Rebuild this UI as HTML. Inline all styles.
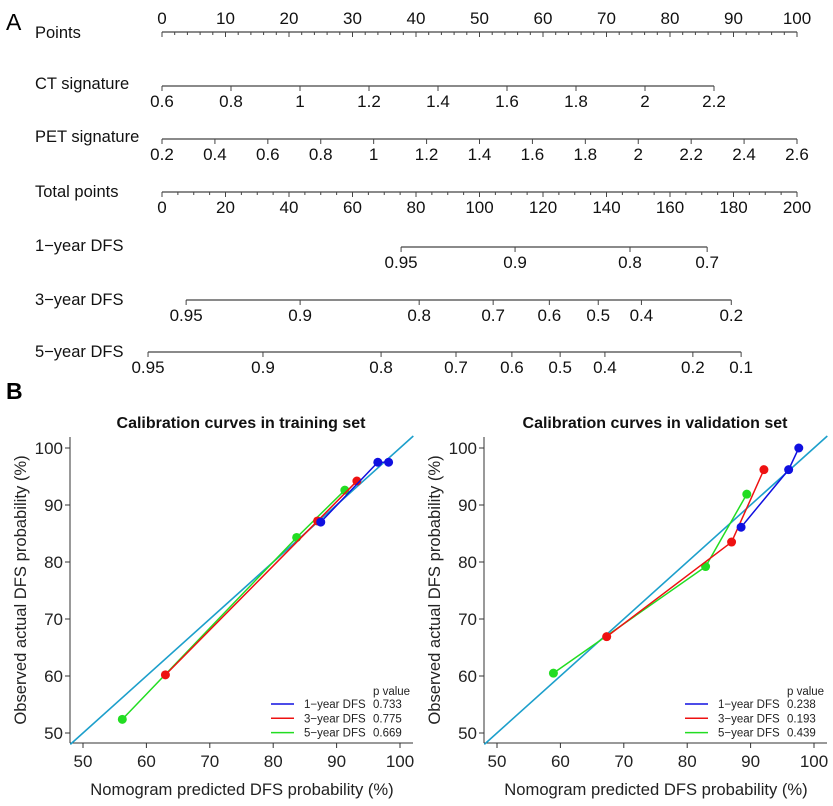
<!DOCTYPE html>
<html><head><meta charset="utf-8"><style>
body{margin:0;background:#fff}
svg{display:block;font-family:"Liberation Sans",sans-serif}
</style></head><body>
<svg id="s" width="833" height="806" viewBox="0 0 833 806">
<text x="6" y="30" font-size="23">A</text>
<text x="6" y="399" font-size="23" font-weight="bold">B</text>
<g id="nomo"></g>
<g id="cal1"></g>
<g id="cal2"></g>
</svg>
<script>
// Nomogram scale data
const rowNames=["Points","CT signature","PET signature","Total points","1\u2212year DFS","3\u2212year DFS","5\u2212year DFS"];
const ctTicks=[0.6,0.8,1,1.2,1.4,1.6,1.8,2,2.2];
const petTicks=[0.2,0.4,0.6,0.8,1,1.2,1.4,1.6,1.8,2,2.2,2.4,2.6];
const dfs1Labels=["0.95","0.9","0.8","0.7"];
const dfs1Points=[75.3,111.2,147.4,171.7]; // total points positions
const dfs3Labels=["0.95","0.9","0.8","0.7","0.6","0.5","0.4","0.2"];
const dfs3Points=[7.6,43.5,81,104.3,122,137.4,151,179.3];
const dfs5Labels=["0.95","0.9","0.8","0.7","0.6","0.5","0.4","0.2","0.1"];
const dfs5Points=[-4.4,31.8,69,92.6,110.2,125.4,139.5,167.2,182.4];

// Calibration data
const trainBlueX=[87.5,96.5,98.2], trainBlueY=[87,97.5,97.5];
const trainRedX=[63,87,93.2], trainRedY=[60.2,87.2,94.2];
const trainGreenX=[56.2,83.7,91.3], trainGreenY=[52.4,84.3,92.6];
const valBlueX=[88.5,96,97.6], valBlueY=[86.1,96.2,100];
const valRedX=[67.3,87,92.1], valRedY=[66.9,83.5,96.2];
const valGreenX=[58.9,82.9,89.4], valGreenY=[60.5,79.2,91.9];
const trainP=["0.733","0.775","0.669"];
const valP=["0.238","0.193","0.439"];
const calTicks=[50,60,70,80,90,100];

const NS="http://www.w3.org/2000/svg";
function mk(p,tag,a,txt){const e=document.createElementNS(NS,tag);for(const k in a)e.setAttribute(k,a[k]);if(txt!==undefined)e.textContent=txt;p.appendChild(e);return e;}

const nomo=document.getElementById('nomo');
const X0=162,X1=797;
const ptX=v=>X0+(X1-X0)*v/100;
const totX=v=>X0+(X1-X0)*v/200;
const labBase=[38,89,142,197,251,305,357];
rowNames.forEach((n,i)=>{
  const t=mk(nomo,'text',{x:35,y:labBase[i],'font-size':16.5,fill:'#111'},n);
  
  
});
function scaleRow(y,xs,labels,above,minor){
  const g=mk(nomo,'g',{});
  
  
  mk(g,'line',{x1:Math.min(...xs),x2:Math.max(...xs),y1:y,y2:y,stroke:'#444','stroke-width':1.2});
  xs.forEach((x,i)=>{
    mk(g,'line',{x1:x,x2:x,y1:y,y2:y+5,stroke:'#444','stroke-width':1});
    const t=mk(g,'text',{x:x,y:above?y-8:y+21,'font-size':17,'text-anchor':'middle',fill:'#111'},labels[i]);
    
    
  });
  (minor||[]).forEach(x=>mk(g,'line',{x1:x,x2:x,y1:y,y2:y+3,stroke:'#444','stroke-width':1}));
}
const pts=[0,10,20,30,40,50,60,70,80,90,100];
const ptMinor=[];for(let v=0;v<=100;v+=2)ptMinor.push(ptX(v));
scaleRow(32,pts.map(ptX),pts.map(String),true,ptMinor);
const ctX=v=>X0+(v-0.6)/0.2*69;
scaleRow(86,ctTicks.map(ctX),ctTicks.map(String),false);
const petX=v=>X0+(v-0.2)/2.4*(X1-X0);
scaleRow(139,petTicks.map(petX),petTicks.map(String),false);
const tot=[0,20,40,60,80,100,120,140,160,180,200];
const totMinor=[];for(let v=0;v<=200;v+=5)totMinor.push(totX(v));
scaleRow(192,tot.map(totX),tot.map(String),false,totMinor);
scaleRow(247,dfs1Points.map(totX),dfs1Labels,false);
scaleRow(300,dfs3Points.map(totX),dfs3Labels,false);
scaleRow(352,dfs5Points.map(totX),dfs5Labels,false);

function cal(id,ox,title,series,pv){
  const g=document.getElementById(id);
  const ax=70+ox, ay=743;
  const sx=v=>83+ox+(v-50)*6.34;
  const sy=v=>733-(v-50)*5.7;
  mk(g,'text',{x:241+ox,y:428,'font-size':16,'font-weight':'bold','text-anchor':'middle',fill:'#111'},title);
  mk(g,'line',{x1:ax,x2:ax,y1:437,y2:ay,stroke:'#333','stroke-width':1});
  mk(g,'line',{x1:ax,x2:413+ox,y1:ay,y2:ay,stroke:'#333','stroke-width':1});
  calTicks.forEach(v=>{
    mk(g,'line',{x1:sx(v),x2:sx(v),y1:ay,y2:ay+5,stroke:'#333'});
    const t=mk(g,'text',{x:sx(v),y:ay+24,'font-size':17,'text-anchor':'middle',fill:'#222'},v);
    
    
    mk(g,'line',{x1:ax-5,x2:ax,y1:sy(v),y2:sy(v),stroke:'#333'});
    const u=mk(g,'text',{x:ax-7,y:sy(v)+6,'font-size':17,'text-anchor':'end',fill:'#222'},v);
    
    
  });
  const xt=mk(g,'text',{x:242+ox,y:795,'font-size':16.6,'text-anchor':'middle',fill:'#222'},'Nomogram predicted DFS probability (%)');
  
  
  const yt=mk(g,'text',{x:0,y:0,'font-size':16.6,'text-anchor':'middle',fill:'#222',transform:`translate(${26+ox},590) rotate(-90)`},'Observed actual DFS probability (%)');
  
  
  const d=mk(g,'line',{x1:sx(48),y1:sy(48),x2:sx(102.1),y2:sy(102.1),stroke:'#1c9fcb','stroke-width':1.6});
  
  
  const cols=['#1010e0','#ee1111','#22dd22'];
  const names=['1\u2212year DFS','3\u2212year DFS','5\u2212year DFS'];
  [2,1,0].forEach(k=>{
    const [xs,ys]=series[k];
    const p=mk(g,'polyline',{points:xs.map((x,i)=>sx(x)+','+sy(ys[i])).join(' '),fill:'none',stroke:cols[k],'stroke-width':1.5});
    
    
    xs.forEach((x,i)=>{
      const c=mk(g,'circle',{cx:sx(x),cy:sy(ys[i]),r:4.5,fill:cols[k]});
      
      
    });
  });
  mk(g,'text',{x:373+ox,y:695,'font-size':11.5,fill:'#222'},'p value');
  names.forEach((n,k)=>{
    const y=704+k*14.3;
    mk(g,'line',{x1:271+ox,x2:294+ox,y1:y,y2:y,stroke:cols[k],'stroke-width':1.5});
    const t=mk(g,'text',{x:304+ox,y:y+4,'font-size':11.5,fill:'#222'},n);
    
    
    mk(g,'text',{x:373+ox,y:y+4,'font-size':11.5,fill:'#222'},pv[k]);
  });
}
cal('cal1',0,'Calibration curves in training set',[[trainBlueX,trainBlueY],[trainRedX,trainRedY],[trainGreenX,trainGreenY]],trainP);
cal('cal2',414,'Calibration curves in validation set',[[valBlueX,valBlueY],[valRedX,valRedY],[valGreenX,valGreenY]],valP);
</script>
</body></html>
